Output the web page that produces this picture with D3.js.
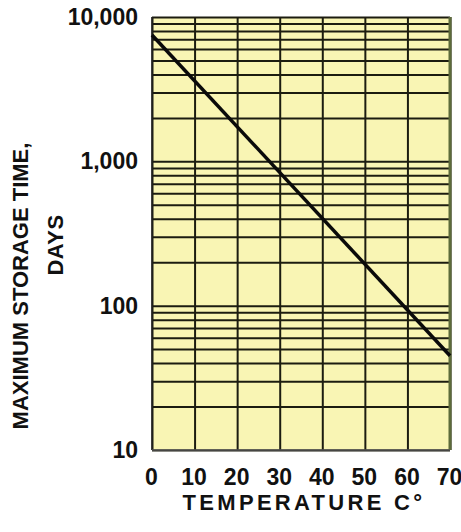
<!DOCTYPE html>
<html>
<head>
<meta charset="utf-8">
<script src="https://cdn.jsdelivr.net/npm/d3@7"></script>
<style>
  body { margin: 0; background: #fff; }
  svg text { font-family: "Liberation Sans", Arial, sans-serif; font-weight: bold; fill: #111; }
</style>
</head>
<body>
<svg id="chart" width="461" height="532"></svg>
<script>
// data
var temps = [0, 70];
var days = [7500, 45];
var xTicks = [0, 10, 20, 30, 40, 50, 60, 70];
var yLabels = [10, 100, 1000, 10000];

var margin = {top: 17, right: 11, bottom: 82, left: 152};
var svg = d3.select('#chart');
var width = 461 - margin.left - margin.right;
var height = 532 - margin.top - margin.bottom;

var g = svg.append('g')
  .attr('transform', 'translate(' + margin.left + ',' + margin.top + ')');

var x = d3.scaleLinear().domain([0, 70]).range([0, width]);
var y = d3.scaleLog().domain([10, 10000]).range([height, 0]);

g.append('rect')
  .attr('width', width)
  .attr('height', height)
  .style('fill', '#f9f5b4');

// horizontal log grid
g.append('g')
  .attr('class', 'ygrid')
  .call(d3.axisLeft(y).tickValues(y.ticks()).tickSize(-width).tickFormat(''))
  .call(function(s) {
    s.select('.domain').remove();
    s.selectAll('line').style('stroke', '#1c1c10').style('stroke-width', 2);
  });

// vertical grid
g.append('g')
  .attr('class', 'xgrid')
  .attr('transform', 'translate(0,' + height + ')')
  .call(d3.axisBottom(x).tickValues(xTicks).tickSize(-height).tickFormat(''))
  .call(function(s) {
    s.select('.domain').remove();
    s.selectAll('line').style('stroke', '#1c1c10').style('stroke-width', 2);
  });

// borders
g.append('line').attr('x1', 0).attr('x2', 0).attr('y1', 0).attr('y2', height)
  .style('stroke', '#222').style('stroke-width', 1.5);
g.append('line').attr('x1', width).attr('x2', width).attr('y1', 0).attr('y2', height)
  .style('stroke', '#5d6b3a').style('stroke-width', 3);
g.append('line').attr('x1', 0).attr('x2', width).attr('y1', height).attr('y2', height)
  .style('stroke', '#555').style('stroke-width', 1.5);

// the line
var line = d3.line()
  .x(function(d, i) { return x(temps[i]); })
  .y(function(d) { return y(d); });

g.append('path')
  .datum(days)
  .attr('d', line)
  .style('fill', 'none')
  .style('stroke', '#0a0a0a')
  .style('stroke-width', 3.5);

// axis labels
g.append('g')
  .call(d3.axisLeft(y).tickValues(yLabels).tickSize(0).tickPadding(14).tickFormat(d3.format(',')))
  .call(function(s) {
    s.select('.domain').remove();
    s.selectAll('text').style('font-size', '23px');
  });

g.append('g')
  .attr('transform', 'translate(-1,' + height + ')')
  .call(d3.axisBottom(x).tickValues(xTicks).tickSize(0).tickPadding(19))
  .call(function(s) {
    s.select('.domain').remove();
    s.selectAll('text').style('font-size', '23px');
  });

svg.append('text')
  .attr('x', 304)
  .attr('y', 510)
  .attr('text-anchor', 'middle')
  .style('font-size', '22px')
  .style('letter-spacing', '3.3px')
  .text('TEMPERATURE C°');

svg.append('text')
  .attr('transform', 'translate(28,286) rotate(-90)')
  .attr('text-anchor', 'middle')
  .style('font-size', '22px')
  .text('MAXIMUM STORAGE TIME,');

svg.append('text')
  .attr('transform', 'translate(63,245) rotate(-90)')
  .attr('text-anchor', 'middle')
  .style('font-size', '22px')
  .style('letter-spacing', '0.5px')
  .text('DAYS');
</script>
</body>
</html>
